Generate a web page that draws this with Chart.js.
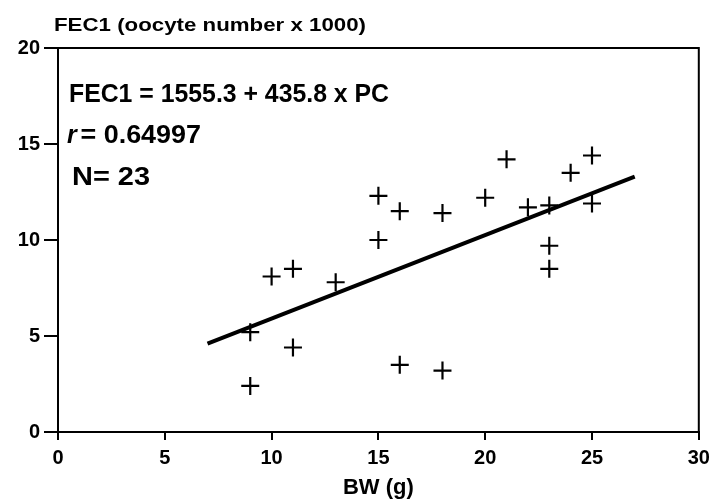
<!DOCTYPE html>
<html>
<head>
<meta charset="utf-8">
<script src="https://cdn.jsdelivr.net/npm/chart.js@4.4.0/dist/chart.umd.min.js"></script>
<style>
html,body{margin:0;padding:0;background:#fff;}
#wrap{width:710px;height:504px;position:relative;}
</style>
</head>
<body>
<div id="wrap"><canvas id="c" width="710" height="504"></canvas></div>
<script>
// Data
const bodyWeight = [9, 9, 10, 11, 11, 13, 15, 15, 16, 16, 18, 18, 20, 21, 22, 23, 23, 23, 24, 25, 25];
const fecundity  = [5.2, 2.4, 8.1, 8.5, 4.4, 7.8, 12.3, 10.0, 11.5, 3.5, 11.4, 3.2, 12.2, 14.2, 11.7, 11.8, 9.7, 8.5, 13.5, 14.4, 11.9];
const fitX = [7, 27];
const fitY = [4.6, 13.3];
const xTicks = [0, 5, 10, 15, 20, 25, 30];
const yTicks = [0, 5, 10, 15, 20];

const titleText = 'FEC1 (oocyte number x 1000)';
const eqText = 'FEC1 = 1555.3 + 435.8 x PC';
const rText = ' = 0.64997';
const nText = 'N= 23';

const FONT = '"Liberation Sans", Arial, sans-serif';

const points = bodyWeight.map((x, i) => ({x: x, y: fecundity[i]}));
const fitLine = fitX.map((x, i) => ({x: x, y: fitY[i]}));

function drawFitted(ctx, text, x, y, size, width, italic) {
  ctx.save();
  ctx.font = (italic ? 'italic ' : '') + 'bold ' + size + 'px ' + FONT;
  const w = ctx.measureText(text).width;
  const sx = width ? width / w : 1;
  ctx.translate(x, y);
  ctx.scale(sx, 1);
  ctx.fillText(text, 0, 0);
  ctx.restore();
  return w * sx;
}

const decor = {
  id: 'decor',
  afterDraw(chart) {
    const ctx = chart.ctx;
    const a = chart.chartArea;
    ctx.save();
    // frame top and right
    ctx.strokeStyle = '#000';
    ctx.lineWidth = 2;
    ctx.beginPath();
    ctx.moveTo(a.left, a.top);
    ctx.lineTo(a.right, a.top);
    ctx.lineTo(a.right, a.bottom);
    ctx.stroke();
    ctx.fillStyle = '#000';
    ctx.textBaseline = 'alphabetic';
    ctx.textAlign = 'left';
    // y-axis title on top
    drawFitted(ctx, titleText, 54, 31, 18, 312, false);
    // annotations
    drawFitted(ctx, eqText, 69, 102, 25, 320, false);
    drawFitted(ctx, 'r', 67, 143, 25, 0, true);
    drawFitted(ctx, rText, 73, 143, 25, 128, false);
    drawFitted(ctx, nText, 72, 185, 25, 78, false);
    ctx.restore();
  }
};

new Chart(document.getElementById('c'), {
  type: 'scatter',
  data: {
    datasets: [
      {
        label: 'data',
        data: points,
        pointStyle: 'cross',
        pointRadius: 9,
        pointHoverRadius: 9,
        borderColor: '#000',
        backgroundColor: '#000',
        borderWidth: 2.2
      },
      {
        label: 'fit',
        type: 'line',
        data: fitLine,
        showLine: true,
        borderColor: '#000',
        borderWidth: 4,
        pointRadius: 0,
        fill: false
      }
    ]
  },
  options: {
    responsive: false,
    animation: false,
    events: [],
    layout: {padding: {left: 0, top: 48, right: 0, bottom: 0}},
    plugins: {
      legend: {display: false},
      tooltip: {enabled: false},
      title: {display: false}
    },
    scales: {
      x: {
        type: 'linear',
        min: 0, max: 30,
        afterBuildTicks(s) { s.ticks = xTicks.map(v => ({value: v})); },
        afterFit(s) { s.height = 72; s.paddingRight = 11; },
        border: {display: true, color: '#000', width: 2},
        grid: {display: true, drawOnChartArea: false, drawTicks: true, tickLength: 8, color: '#000', lineWidth: 2},
        ticks: {color: '#000', padding: 6, font: {family: FONT, size: 20, weight: 'bold'}, maxRotation: 0},
        title: {display: true, text: 'BW (g)', color: '#000', font: {family: FONT, size: 22, weight: 'bold'}, padding: {top: 2, bottom: 3}}
      },
      y: {
        type: 'linear',
        min: 0, max: 20,
        afterBuildTicks(s) { s.ticks = yTicks.map(v => ({value: v})); },
        afterFit(s) { s.width = 58; },
        border: {display: true, color: '#000', width: 2},
        grid: {display: true, drawOnChartArea: false, drawTicks: true, tickLength: 14, color: '#000', lineWidth: 2},
        ticks: {color: '#000', padding: 4, font: {family: FONT, size: 20, weight: 'bold'}}
      }
    }
  },
  plugins: [decor]
});
</script>
</body>
</html>
